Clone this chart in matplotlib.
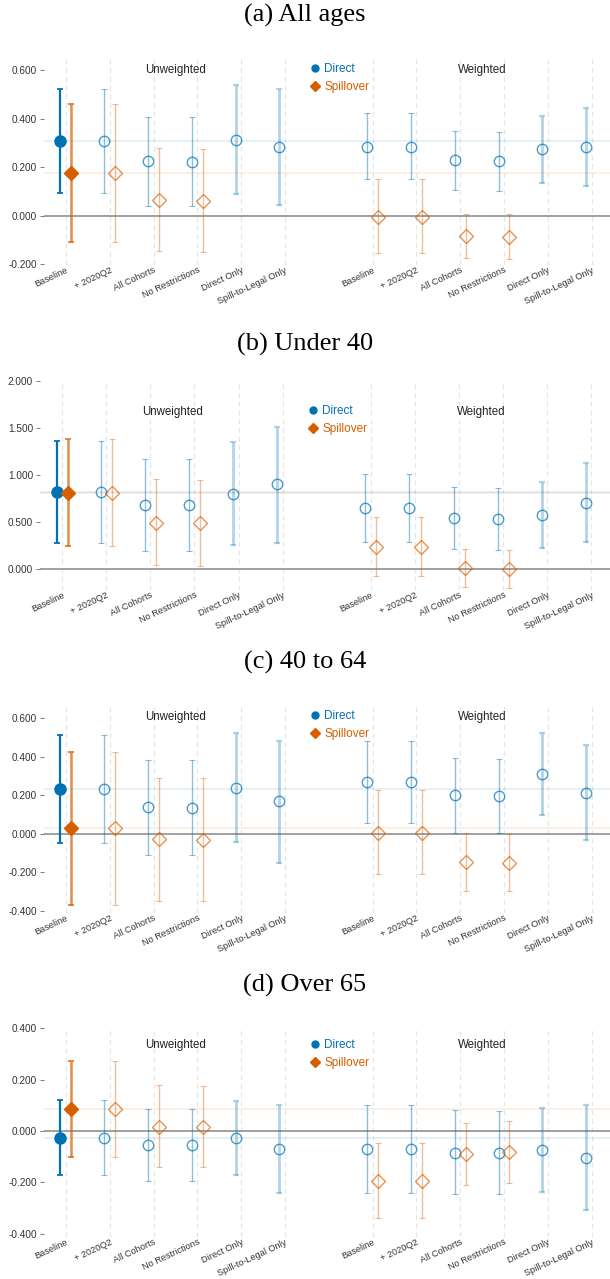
import matplotlib
matplotlib.use("Agg")
import matplotlib.pyplot as plt
from matplotlib.lines import Line2D
from matplotlib.ticker import FormatStrFormatter

plt.rcParams["font.family"] = ["Liberation Sans", "DejaVu Sans"]
plt.rcParams["axes.unicode_minus"] = False

BLUE = "#0072B2"
ORANGE = "#D55E00"

categories = ["Baseline", "+ 2020Q2", "All Cohorts", "No Restrictions",
              "Direct Only", "Spill-to-Legal Only"]
groups = ["Unweighted", "Weighted"]
titles = ["(a) All ages", "(b) Under 40", "(c) 40 to 64", "(d) Over 65"]

# direct effects: 6 unweighted specs then 6 weighted specs
all_direct = [0.308, 0.308, 0.223, 0.222, 0.311, 0.284,
              0.282, 0.282, 0.228, 0.223, 0.273, 0.282]
all_direct_lo = [0.094, 0.094, 0.039, 0.038, 0.090, 0.043,
                 0.149, 0.149, 0.105, 0.101, 0.133, 0.122]
all_direct_hi = [0.522, 0.522, 0.408, 0.405, 0.537, 0.523,
                 0.421, 0.421, 0.350, 0.346, 0.412, 0.442]
# spillover effects: first 4 specs of each group
all_spill = [0.174, 0.174, 0.064, 0.061, -0.004, -0.004, -0.085, -0.087]
all_spill_lo = [-0.108, -0.108, -0.148, -0.149, -0.156, -0.156, -0.177, -0.178]
all_spill_hi = [0.458, 0.458, 0.280, 0.276, 0.149, 0.149, 0.008, 0.005]

u40_direct = [0.816, 0.816, 0.681, 0.681, 0.794, 0.901,
              0.645, 0.645, 0.539, 0.532, 0.574, 0.705]
u40_direct_lo = [0.273, 0.273, 0.195, 0.195, 0.252, 0.280,
                 0.291, 0.291, 0.209, 0.206, 0.220, 0.287]
u40_direct_hi = [1.362, 1.362, 1.170, 1.167, 1.348, 1.514,
                 1.007, 1.007, 0.869, 0.862, 0.922, 1.124]
u40_spill = [0.812, 0.812, 0.489, 0.486, 0.238, 0.238, 0.011, 0.000]
u40_spill_lo = [0.245, 0.245, 0.039, 0.032, -0.074, -0.074, -0.191, -0.199]
u40_spill_hi = [1.387, 1.387, 0.954, 0.943, 0.550, 0.550, 0.216, 0.202]

mid_direct = [0.232, 0.232, 0.137, 0.135, 0.240, 0.168,
              0.268, 0.268, 0.199, 0.195, 0.311, 0.214]
mid_direct_lo = [-0.045, -0.045, -0.109, -0.109, -0.042, -0.150,
                 0.057, 0.057, 0.003, 0.002, 0.099, -0.031]
mid_direct_hi = [0.510, 0.510, 0.384, 0.382, 0.524, 0.482,
                 0.479, 0.479, 0.394, 0.389, 0.524, 0.462]
mid_spill = [0.028, 0.028, -0.029, -0.031, 0.005, 0.005, -0.147, -0.149]
mid_spill_lo = [-0.370, -0.370, -0.348, -0.348, -0.209, -0.209, -0.296, -0.296]
mid_spill_hi = [0.425, 0.425, 0.292, 0.289, 0.225, 0.225, 0.003, -0.002]

o65_direct = [-0.026, -0.026, -0.056, -0.056, -0.028, -0.071,
              -0.070, -0.070, -0.084, -0.084, -0.075, -0.104]
o65_direct_lo = [-0.171, -0.171, -0.194, -0.194, -0.172, -0.242,
                 -0.241, -0.241, -0.246, -0.246, -0.238, -0.307]
o65_direct_hi = [0.119, 0.119, 0.085, 0.085, 0.115, 0.100,
                 0.100, 0.100, 0.080, 0.079, 0.088, 0.100]
o65_spill = [0.085, 0.085, 0.017, 0.017, -0.193, -0.193, -0.091, -0.082]
o65_spill_lo = [-0.102, -0.102, -0.140, -0.140, -0.338, -0.338, -0.211, -0.201]
o65_spill_hi = [0.273, 0.273, 0.177, 0.176, -0.048, -0.048, 0.032, 0.040]

y_ticks = [
    [-0.2, 0.0, 0.2, 0.4, 0.6],
    [0.0, 0.5, 1.0, 1.5, 2.0],
    [-0.4, -0.2, 0.0, 0.2, 0.4, 0.6],
    [-0.4, -0.2, 0.0, 0.2, 0.4],
]

panels = [
    (all_direct, all_direct_lo, all_direct_hi, all_spill, all_spill_lo, all_spill_hi),
    (u40_direct, u40_direct_lo, u40_direct_hi, u40_spill, u40_spill_lo, u40_spill_hi),
    (mid_direct, mid_direct_lo, mid_direct_hi, mid_spill, mid_spill_lo, mid_spill_hi),
    (o65_direct, o65_direct_lo, o65_direct_hi, o65_spill, o65_spill_lo, o65_spill_hi),
]

# layout in pixels: (left, top, bottom), y limits, header height, title centre
W, H = 610, 1279
boxes = [(44, 56, 265), (40, 380, 590), (44, 703, 913), (44, 1027, 1237)]
ylims = [(-0.204, 0.658), (-0.223, 2.01), (-0.41, 0.678), (-0.412, 0.404)]
header_y = [0.935, 0.85, 0.935, 0.912]
title_y = [15, 344, 662, 985]

x_direct = [i + 1 for i in range(6)] + [i + 8 for i in range(6)]
x_spill = [1, 2, 3, 4, 8, 9, 10, 11]
off = 0.125

fig = plt.figure(figsize=(W / 100, H / 100), dpi=100)

for p, (d, dlo, dhi, s, slo, shi) in enumerate(panels):
    left, top, bottom = boxes[p]
    ax = fig.add_axes([left / W, 1 - bottom / H, (W - left) / W, (bottom - top) / H])
    ax.set_xlim(0.5, 13.42)
    ax.set_ylim(*ylims[p])

    for x in x_direct:
        ax.axvline(x, color="#e6e6e6", lw=0.9, dashes=(4, 3), zorder=0)
    ax.axhline(d[0], color=BLUE, alpha=0.12, lw=1.2, zorder=0)
    ax.axhline(s[0], color=ORANGE, alpha=0.12, lw=1.2, zorder=0)
    ax.axhline(0, color="#a0a0a0", lw=1.4, zorder=1)

    for i, x in enumerate(x_direct):
        spec = i % 6
        base = i == 0
        if base:
            bar_kw = dict(color=BLUE, lw=1.6, alpha=1.0)
        elif spec >= 4:
            bar_kw = dict(color=BLUE, lw=2.0, alpha=0.3)
        else:
            bar_kw = dict(color=BLUE, lw=1.0, alpha=0.45)
        ax.errorbar(x - off, d[i], yerr=[[d[i] - dlo[i]], [dhi[i] - d[i]]],
                    fmt="none", capsize=2, capthick=bar_kw["lw"] * 0.8,
                    elinewidth=bar_kw["lw"], ecolor=bar_kw["color"],
                    alpha=bar_kw["alpha"], zorder=2)
        if base:
            ax.plot(x - off, d[i], "o", color=BLUE, ms=8, zorder=3)
        else:
            ax.plot(x - off, d[i], "o", mfc="none", mec=BLUE, mew=1.0,
                    ms=7.5, alpha=0.7, zorder=3)

    for i, x in enumerate(x_spill):
        base = i == 0
        lw = 1.8 if base else 1.0
        ax.errorbar(x + off, s[i], yerr=[[s[i] - slo[i]], [shi[i] - s[i]]],
                    fmt="none", capsize=2, capthick=lw * 0.8, elinewidth=lw,
                    ecolor=ORANGE, alpha=0.7 if base else 0.4, zorder=2)
        if base:
            ax.plot(x + off, s[i], "D", color=ORANGE, ms=7, zorder=3)
        else:
            ax.plot(x + off, s[i], "D", mfc="none", mec=ORANGE, mew=1.0,
                    ms=7, alpha=0.65, zorder=3)

    for sp in ax.spines.values():
        sp.set_visible(False)
    ax.set_yticks(y_ticks[p])
    ax.yaxis.set_major_formatter(FormatStrFormatter("%.3f"))
    ax.tick_params(axis="y", length=3, width=0.6, color="#666666", pad=2,
                   labelsize=7.2, labelcolor="#333333")
    ax.set_xticks(x_direct)
    ax.set_xticklabels(categories * 2, rotation=25, ha="right",
                       rotation_mode="anchor")
    ax.tick_params(axis="x", length=0, pad=0.5, labelsize=6.6, labelcolor="#333333")

    ax.text(3.5, header_y[p], groups[0], transform=ax.get_xaxis_transform(),
            ha="center", va="center", fontsize=8.3, color="#222222")
    ax.text(10.5, header_y[p], groups[1], transform=ax.get_xaxis_transform(),
            ha="center", va="center", fontsize=8.3, color="#222222")

    handles = [Line2D([], [], ls="none", marker="o", color=BLUE, ms=5),
               Line2D([], [], ls="none", marker="D", color=ORANGE, ms=5)]
    ax.legend(handles, ["Direct", "Spillover"], loc="upper left",
              bbox_to_anchor=(0.47, header_y[p] + 0.032), frameon=False,
              fontsize=8.5, handlelength=0.8, handletextpad=0.4,
              borderpad=0, borderaxespad=0, labelspacing=0.5,
              labelcolor=[BLUE, ORANGE])

    fig.text(0.5, 1 - title_y[p] / H, titles[p], ha="center", va="center",
             fontsize=19, family=["Liberation Serif", "DejaVu Serif"])

fig.savefig("out.png", dpi=100)
